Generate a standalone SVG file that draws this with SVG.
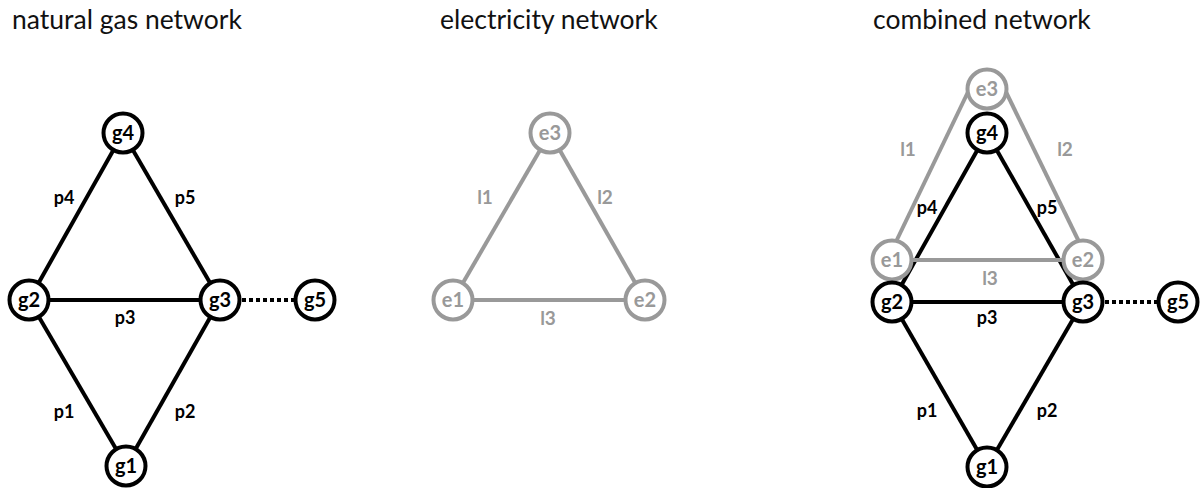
<svg xmlns="http://www.w3.org/2000/svg" width="1204" height="488" viewBox="0 0 1204 488">
<style>
.title{font-family:Lato,"Open Sans",sans-serif;font-size:26.5px;fill:#111}
.gl{stroke:#000;stroke-width:4;fill:none}
.el{stroke:#999;stroke-width:4;fill:none}
.dot{stroke:#000;stroke-width:4;stroke-dasharray:4 3;fill:none}
.gn circle{fill:#fff;stroke:#000;stroke-width:4}
.en circle{fill:#fff;stroke:#999;stroke-width:4}
.gn text{font-family:Lato,"Liberation Sans",sans-serif;font-weight:bold;font-size:20px;fill:#000;text-anchor:middle;dominant-baseline:central}
.en text{font-family:Lato,"Liberation Sans",sans-serif;font-weight:bold;font-size:20px;fill:#999;text-anchor:middle;dominant-baseline:central}
.lg{font-family:Lato,"Liberation Sans",sans-serif;font-weight:bold;font-size:18px;fill:#000;text-anchor:middle;dominant-baseline:central}
.le{font-family:Lato,"Liberation Sans",sans-serif;font-weight:bold;font-size:19px;fill:#999;text-anchor:middle;dominant-baseline:central}
</style>
<rect width="1204" height="488" fill="#fff"/>
<text class="title" x="12" y="29">natural gas network</text>
<text class="title" x="440" y="29">electricity network</text>
<text class="title" x="873" y="29">combined network</text>
<g id="connectors">
<line class="gl" x1="123" y1="133" x2="29" y2="300"/>
<line class="gl" x1="123" y1="133" x2="220" y2="300"/>
<line class="gl" x1="29" y1="300" x2="220" y2="300"/>
<line class="gl" x1="29" y1="300" x2="126" y2="466"/>
<line class="gl" x1="220" y1="300" x2="126" y2="466"/>
<line class="dot" x1="242" y1="300" x2="294" y2="300"/>
<line class="el" x1="550" y1="133" x2="453" y2="300"/>
<line class="el" x1="550" y1="133" x2="645" y2="300"/>
<line class="el" x1="453" y1="300" x2="645" y2="300"/>
<line class="gl" x1="987" y1="133" x2="892" y2="302"/>
<line class="gl" x1="987" y1="133" x2="1083" y2="302"/>
<line class="gl" x1="892" y1="302" x2="1083" y2="302"/>
<line class="gl" x1="892" y1="302" x2="987" y2="467"/>
<line class="gl" x1="1083" y1="302" x2="987" y2="467"/>
<line class="dot" x1="1105" y1="302" x2="1157" y2="302"/>
<line class="el" x1="968" y1="92" x2="892" y2="250"/>
<line class="el" x1="1006" y1="92" x2="1083" y2="250"/>
<line class="el" x1="892" y1="260" x2="1083" y2="260"/>
<text class="lg" x="64" y="197">p4</text>
<text class="lg" x="185" y="197">p5</text>
<text class="lg" x="125" y="317">p3</text>
<text class="lg" x="64" y="411">p1</text>
<text class="lg" x="185" y="411">p2</text>
<text class="le" x="485" y="196">l1</text>
<text class="le" x="605" y="196">l2</text>
<text class="le" x="548" y="317">l3</text>
<text class="le" x="908" y="148">l1</text>
<text class="le" x="1065" y="148">l2</text>
<text class="le" x="990" y="277">l3</text>
<text class="lg" x="927" y="207">p4</text>
<text class="lg" x="1047" y="207">p5</text>
<text class="lg" x="987" y="317">p3</text>
<text class="lg" x="927" y="410">p1</text>
<text class="lg" x="1047" y="410">p2</text>
</g>
<g id="g4" class="gn"><circle cx="123" cy="133" r="19.5"/><text x="123" y="132">g4</text></g>
<g id="g2" class="gn"><circle cx="29" cy="300" r="19.5"/><text x="29" y="299">g2</text></g>
<g id="g3" class="gn"><circle cx="220" cy="300" r="19.5"/><text x="220" y="299">g3</text></g>
<g id="g5" class="gn"><circle cx="315" cy="300" r="19.5"/><text x="315" y="299">g5</text></g>
<g id="g1" class="gn"><circle cx="126" cy="466" r="19.5"/><text x="126" y="465">g1</text></g>
<g id="e3" class="en"><circle cx="550" cy="133" r="19.5"/><text x="550" y="132">e3</text></g>
<g id="e1" class="en"><circle cx="453" cy="300" r="19.5"/><text x="453" y="299">e1</text></g>
<g id="e2" class="en"><circle cx="645" cy="300" r="19.5"/><text x="645" y="299">e2</text></g>
<g id="c-e3" class="en"><circle cx="987" cy="89" r="19.5"/><text x="987" y="88">e3</text></g>
<g id="c-e1" class="en"><circle cx="892" cy="260" r="19.5"/><text x="892" y="259">e1</text></g>
<g id="c-e2" class="en"><circle cx="1083" cy="260" r="19.5"/><text x="1083" y="259">e2</text></g>
<g id="c-g4" class="gn"><circle cx="987" cy="133" r="19.5"/><text x="987" y="132">g4</text></g>
<g id="c-g2" class="gn"><circle cx="892" cy="302" r="19.5"/><text x="892" y="301">g2</text></g>
<g id="c-g3" class="gn"><circle cx="1083" cy="302" r="19.5"/><text x="1083" y="301">g3</text></g>
<g id="c-g5" class="gn"><circle cx="1178" cy="302" r="19.5"/><text x="1178" y="301">g5</text></g>
<g id="c-g1" class="gn"><circle cx="987" cy="467" r="19.5"/><text x="987" y="466">g1</text></g>
</svg>
